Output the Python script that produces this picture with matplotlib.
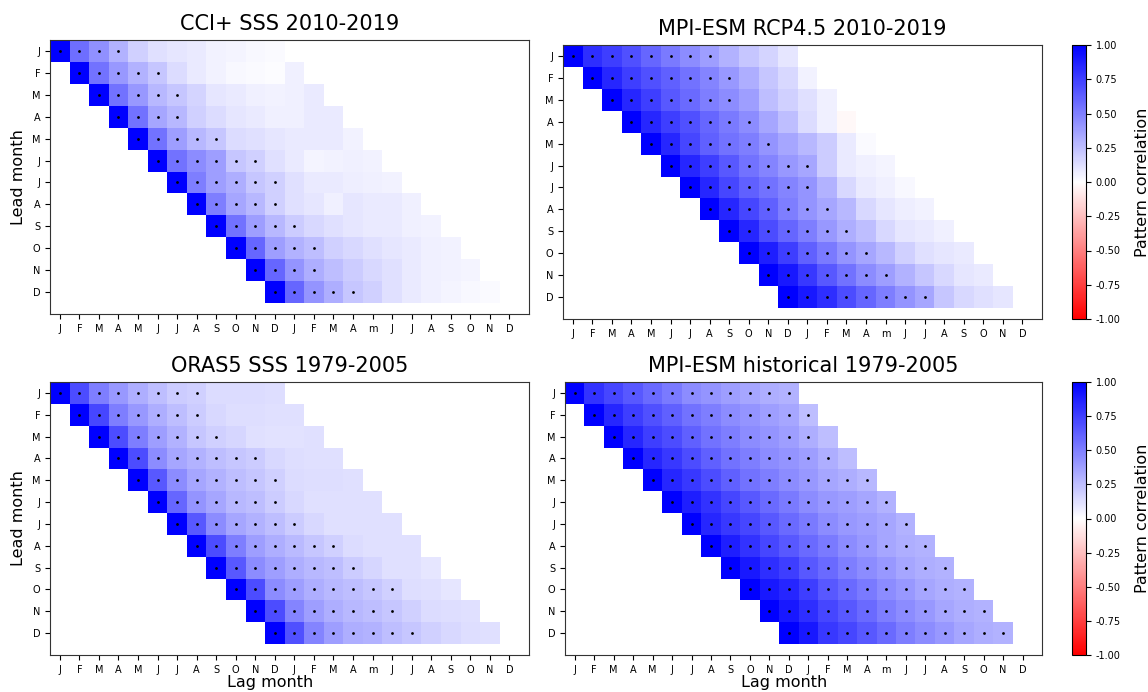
import matplotlib.pyplot as plt
import numpy as np

# Monatsbeschriftungen
lead_months = ['J', 'F', 'M', 'A', 'M', 'J', 'J', 'A', 'S', 'O', 'N', 'D']
lag_months = ['J', 'F', 'M', 'A', 'M', 'J', 'J', 'A', 'S', 'O', 'N', 'D',
              'J', 'F', 'M', 'A', 'm', 'J', 'J', 'A', 'S', 'O', 'N', 'D']

# Musterkorrelation: Zeile = Lead-Monat, Spalte = Lag 0..11
cci = [
    [1.00, 0.57, 0.43, 0.30, 0.18, 0.12, 0.10, 0.08, 0.05, 0.04, 0.03, 0.02],
    [1.00, 0.55, 0.40, 0.30, 0.22, 0.14, 0.08, 0.05, 0.03, 0.02, 0.01, 0.06],
    [1.00, 0.55, 0.40, 0.28, 0.22, 0.17, 0.10, 0.08, 0.06, 0.05, 0.06, 0.08],
    [1.00, 0.55, 0.35, 0.28, 0.18, 0.14, 0.10, 0.08, 0.06, 0.06, 0.08, 0.08],
    [1.00, 0.55, 0.38, 0.28, 0.22, 0.14, 0.12, 0.10, 0.08, 0.08, 0.08, 0.05],
    [1.00, 0.55, 0.45, 0.38, 0.22, 0.18, 0.12, 0.08, 0.04, 0.05, 0.06, 0.05],
    [1.00, 0.50, 0.38, 0.32, 0.22, 0.18, 0.12, 0.08, 0.08, 0.07, 0.06, 0.05],
    [1.00, 0.50, 0.35, 0.28, 0.18, 0.12, 0.10, 0.06, 0.10, 0.08, 0.08, 0.06],
    [1.00, 0.55, 0.38, 0.28, 0.20, 0.15, 0.12, 0.10, 0.08, 0.08, 0.06, 0.05],
    [1.00, 0.60, 0.38, 0.30, 0.25, 0.18, 0.15, 0.12, 0.10, 0.08, 0.06, 0.05],
    [1.00, 0.60, 0.42, 0.32, 0.25, 0.20, 0.15, 0.12, 0.08, 0.06, 0.05, 0.04],
    [1.00, 0.60, 0.42, 0.32, 0.22, 0.18, 0.12, 0.08, 0.06, 0.04, 0.03, 0.02],
]
rcp = [
    [1.00, 0.82, 0.75, 0.68, 0.60, 0.52, 0.45, 0.38, 0.30, 0.22, 0.17, 0.10],
    [1.00, 0.85, 0.75, 0.68, 0.62, 0.55, 0.48, 0.40, 0.32, 0.22, 0.15, 0.05],
    [1.00, 0.85, 0.75, 0.65, 0.58, 0.50, 0.45, 0.38, 0.25, 0.18, 0.12, 0.06],
    [1.00, 0.85, 0.75, 0.68, 0.60, 0.52, 0.45, 0.35, 0.25, 0.14, 0.06, -0.03],
    [1.00, 0.85, 0.72, 0.62, 0.55, 0.50, 0.42, 0.35, 0.28, 0.20, 0.08, 0.02],
    [1.00, 0.85, 0.75, 0.65, 0.55, 0.48, 0.40, 0.35, 0.20, 0.08, 0.06, 0.04],
    [1.00, 0.85, 0.72, 0.62, 0.55, 0.48, 0.42, 0.30, 0.15, 0.08, 0.06, 0.03],
    [1.00, 0.85, 0.72, 0.62, 0.50, 0.42, 0.35, 0.28, 0.15, 0.10, 0.07, 0.05],
    [1.00, 0.85, 0.70, 0.60, 0.50, 0.40, 0.32, 0.25, 0.15, 0.10, 0.08, 0.06],
    [1.00, 0.88, 0.75, 0.62, 0.52, 0.42, 0.35, 0.28, 0.18, 0.12, 0.10, 0.08],
    [1.00, 0.90, 0.78, 0.65, 0.55, 0.45, 0.38, 0.30, 0.22, 0.15, 0.10, 0.08],
    [1.00, 0.90, 0.82, 0.70, 0.60, 0.50, 0.42, 0.35, 0.22, 0.15, 0.12, 0.10],
]
oras = [
    [1.00, 0.70, 0.50, 0.40, 0.32, 0.25, 0.20, 0.18, 0.14, 0.14, 0.14, 0.13],
    [1.00, 0.72, 0.50, 0.40, 0.32, 0.25, 0.20, 0.15, 0.13, 0.13, 0.12, 0.12],
    [1.00, 0.70, 0.50, 0.38, 0.30, 0.22, 0.18, 0.16, 0.12, 0.11, 0.11, 0.12],
    [1.00, 0.70, 0.45, 0.35, 0.30, 0.25, 0.22, 0.20, 0.15, 0.13, 0.12, 0.12],
    [1.00, 0.65, 0.45, 0.35, 0.30, 0.25, 0.22, 0.18, 0.14, 0.13, 0.13, 0.12],
    [1.00, 0.60, 0.42, 0.35, 0.28, 0.25, 0.20, 0.15, 0.12, 0.12, 0.12, 0.12],
    [1.00, 0.65, 0.45, 0.35, 0.30, 0.25, 0.20, 0.15, 0.12, 0.12, 0.12, 0.12],
    [1.00, 0.70, 0.50, 0.38, 0.32, 0.27, 0.22, 0.18, 0.14, 0.12, 0.12, 0.12],
    [1.00, 0.65, 0.45, 0.38, 0.32, 0.28, 0.25, 0.20, 0.16, 0.12, 0.12, 0.10],
    [1.00, 0.70, 0.45, 0.38, 0.32, 0.28, 0.25, 0.22, 0.18, 0.13, 0.12, 0.10],
    [1.00, 0.70, 0.48, 0.38, 0.32, 0.28, 0.25, 0.22, 0.18, 0.14, 0.13, 0.12],
    [1.00, 0.68, 0.48, 0.38, 0.32, 0.30, 0.25, 0.22, 0.18, 0.15, 0.13, 0.12],
]
hist = [
    [1.00, 0.80, 0.72, 0.65, 0.58, 0.52, 0.45, 0.42, 0.38, 0.35, 0.32, 0.30],
    [1.00, 0.85, 0.75, 0.68, 0.62, 0.55, 0.50, 0.45, 0.42, 0.38, 0.35, 0.25],
    [1.00, 0.85, 0.75, 0.70, 0.62, 0.55, 0.50, 0.45, 0.42, 0.38, 0.32, 0.25],
    [1.00, 0.85, 0.78, 0.70, 0.62, 0.55, 0.50, 0.45, 0.42, 0.38, 0.32, 0.25],
    [1.00, 0.85, 0.78, 0.70, 0.62, 0.55, 0.50, 0.45, 0.40, 0.35, 0.32, 0.28],
    [1.00, 0.88, 0.80, 0.72, 0.65, 0.58, 0.52, 0.45, 0.40, 0.38, 0.35, 0.30],
    [1.00, 0.85, 0.78, 0.72, 0.65, 0.58, 0.52, 0.45, 0.40, 0.38, 0.35, 0.30],
    [1.00, 0.88, 0.80, 0.72, 0.65, 0.58, 0.52, 0.45, 0.40, 0.35, 0.32, 0.30],
    [1.00, 0.90, 0.82, 0.75, 0.65, 0.58, 0.50, 0.45, 0.40, 0.35, 0.32, 0.30],
    [1.00, 0.90, 0.85, 0.75, 0.65, 0.58, 0.52, 0.45, 0.40, 0.35, 0.32, 0.30],
    [1.00, 0.90, 0.82, 0.72, 0.65, 0.58, 0.50, 0.45, 0.40, 0.35, 0.32, 0.30],
    [1.00, 0.90, 0.78, 0.72, 0.65, 0.58, 0.50, 0.45, 0.40, 0.35, 0.32, 0.30],
]

# Anzahl signifikanter Lags je Lead-Monat (ab Lag 0)
cci_sig = [4, 5, 5, 4, 5, 6, 6, 5, 5, 5, 4, 5]
rcp_sig = [8, 8, 7, 7, 7, 8, 7, 7, 7, 7, 7, 8]
oras_sig = [8, 7, 7, 8, 8, 7, 7, 8, 8, 9, 8, 8]
hist_sig = [12, 12, 11, 11, 12, 12, 12, 12, 12, 12, 12, 12]

titles = ['CCI+ SSS 2010-2019', 'MPI-ESM RCP4.5 2010-2019',
          'ORAS5 SSS 1979-2005', 'MPI-ESM historical 1979-2005']

W, H = 1148, 692
fig = plt.figure(figsize=(W / 100, H / 100), dpi=100)


def px_axes(x0, x1, y0, y1):
    return fig.add_axes([x0 / W, 1 - y1 / H, (x1 - x0) / W, (y1 - y0) / H])


# Lags auf Kalendermonate umlegen
def to_grid(vals):
    grid = np.full((12, 24), np.nan)
    for i, row in enumerate(vals):
        for k, v in enumerate(row):
            grid[i, i + k] = v
    return np.ma.masked_invalid(grid)


def plot_panel(ax, vals, sig, title, xlabel=False):
    xe = np.arange(25) - 0.5
    ye = np.arange(13) - 0.5
    pm = ax.pcolormesh(xe, ye, to_grid(vals), cmap='bwr_r', vmin=-1, vmax=1)
    for i, n in enumerate(sig):
        cols = i + np.arange(n)
        ax.scatter(cols, np.full(n, i), s=4, c='k', linewidths=0)
    ax.set_xlim(-0.5, 24)
    ax.set_ylim(12, -0.5)
    ax.set_xticks(range(24))
    ax.set_xticklabels(lag_months, fontsize=7)
    ax.set_yticks(range(12))
    ax.set_yticklabels(lead_months, fontsize=7)
    ax.set_title(title, fontsize=15, pad=7)
    for s in ax.spines.values():
        s.set_color('#333333')
    if xlabel:
        ax.set_xlabel('Lag month', fontsize=11.5)
        ax.xaxis.set_label_coords(0.46, -0.075)
    return pm


ax1 = px_axes(50, 529, 40, 314)
ax2 = px_axes(563, 1042, 45, 319)
ax3 = px_axes(50, 529, 382, 655)
ax4 = px_axes(565, 1042, 382, 655)

plot_panel(ax1, cci, cci_sig, titles[0])
pm = plot_panel(ax2, rcp, rcp_sig, titles[1])
plot_panel(ax3, oras, oras_sig, titles[2], xlabel=True)
pm2 = plot_panel(ax4, hist, hist_sig, titles[3], xlabel=True)

for ax in (ax1, ax3):
    ax.set_ylabel('Lead month', fontsize=11.5)

for m, (y0, y1) in ((pm, (45, 319)), (pm2, (382, 655))):
    cax = px_axes(1072, 1086, y0, y1)
    cb = fig.colorbar(m, cax=cax, ticks=np.arange(-1, 1.01, 0.25), format='%.2f')
    cb.ax.tick_params(labelsize=7)
    cb.set_label('Pattern correlation', fontsize=11.5, labelpad=10)

plt.savefig('out.png', dpi=100)
